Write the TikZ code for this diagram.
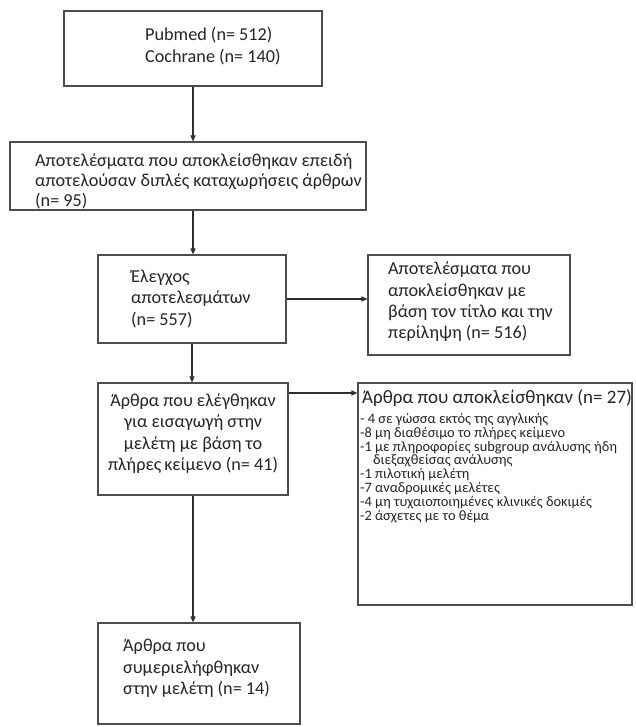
\documentclass[tikz,border=0pt]{standalone}
\usepackage{fontspec}
\setmainfont{Carlito}
\usetikzlibrary{arrows.meta,calc}
\definecolor{boxgray}{HTML}{4D4D4D}
\definecolor{linec}{HTML}{2E2E2E}
\definecolor{textc}{HTML}{262626}
\begin{document}
\begin{tikzpicture}[x=1pt,y=-1pt,
  box/.style={draw=boxgray, line width=1.1pt, inner sep=0pt},
  txt/.style={inner sep=0pt, anchor=west, text=textc, font=\fontsize{18.2}{21.3}\selectfont, align=left},
  small/.style={inner sep=0pt, anchor=west, text=textc, font=\fontsize{14.4}{13.9}\selectfont, align=left},
  conn/.style={draw=linec, line width=1.1pt, -{Triangle[length=6pt,width=5pt]}}]
\useasboundingbox (0,0) rectangle (635,727);
\fill[white] (0,0) rectangle (635,727);
% boxes
\node[box, minimum width=258pt, minimum height=75pt] (b1) at (193,48.5) {};
\node[box, minimum width=356pt, minimum height=68pt] (b2) at (188,176) {};
\node[box, minimum width=188pt, minimum height=88pt] (b3) at (192,299) {};
\node[box, minimum width=202pt, minimum height=100pt] (b4) at (469,305) {};
\node[box, minimum width=190pt, minimum height=112pt] (b5) at (193,439) {};
\node[box, minimum width=274pt, minimum height=222pt] (b6) at (495,494) {};
\node[box, minimum width=202pt, minimum height=101pt] (b7) at (199,673.5) {};
% texts
\node[txt] (t1) at (145,46) {Pubmed (n= 512)\\Cochrane (n= 140)};
\node[txt, font=\fontsize{18.2}{19.8}\selectfont] (t2) at (35,181.5) {Αποτελέσματα που αποκλείσθηκαν επειδή\\αποτελούσαν διπλές καταχωρήσεις άρθρων\\(n= 95)};
\node[txt] (t3) at (131,299) {Έλεγχος\\αποτελεσμάτων\\(n= 557)};
\node[txt] (t4) at (388,302) {Αποτελέσματα που\\αποκλείσθηκαν με\\βάση τον τίτλο και την\\περίληψη (n= 516)};
\node[txt, anchor=center, align=center] (t5) at (193,433.5) {Άρθρα που ελέγθηκαν\\για εισαγωγή στην\\μελέτη με βάση το\\πλήρες\,κείμενο (n= 41)};
\node[txt, font=\fontsize{19}{22}\selectfont] (t6a) at (362,398) {Άρθρα που αποκλείσθηκαν (n= 27)};
\node[small] (t6b) at (360,468) {- 4 σε γώσσα εκτός της αγγλικής\\-8 μη διαθέσιμο το πλήρες κείμενο\\-1 με πληροφορίες subgroup ανάλυσης ήδη\\\hspace*{13pt}διεξαχθείσας ανάλυσης\\-1 πιλοτική μελέτη\\-7 αναδρομικές μελέτες\\-4 μη τυχαιοποιημένες κλινικές δοκιμές\\-2 άσχετες με το θέμα};
\node[txt] (t7) at (123,668.5) {Άρθρα που\\συμεριελήφθηκαν\\στην μελέτη (n= 14)};
% connectors
\draw[conn] (b1.south -| 193,0) -- (b2.north -| 193,0);
\draw[conn] (b2.south -| 193,0) -- (b3.north -| 193,0);
\draw[conn] (b3.east |- 0,299) -- (b4.west |- 0,299);
\draw[conn] (b3.south -| 192,0) -- (b5.north -| 192,0);
\draw[conn] (b5.east |- 0,393) -- (b6.west |- 0,393);
\draw[conn] (b5.south -| 193,0) -- (b7.north -| 193,0);
\end{tikzpicture}
\end{document}
